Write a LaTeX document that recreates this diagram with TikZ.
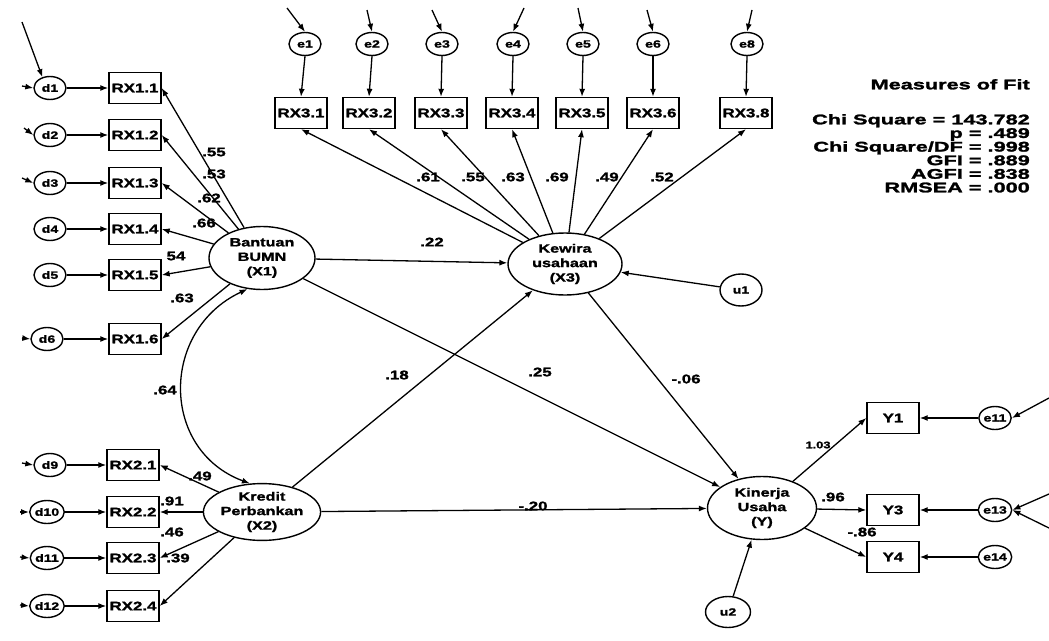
\documentclass[tikz,border=0pt]{standalone}
\usepackage{fontspec}
\usetikzlibrary{shapes.geometric,arrows.meta}
\newfontfamily\lab{Liberation Sans Bold}[FakeStretch=1.35,FakeBold=1.6]
\newfontfamily\meas{Liberation Sans Bold}[FakeStretch=1.55,FakeBold=1.8]
\begin{document}
\begin{tikzpicture}[x=1pt,y=-1pt,
 box/.style={draw, line width=1.4pt, minimum width=52pt, minimum height=31pt, inner sep=1pt, font=\lab\fontsize{12.5}{14}\selectfont},
 err/.style={draw, ellipse, line width=1.4pt, minimum width=32pt, minimum height=23pt, inner sep=0pt, font=\lab\fontsize{10.5}{12}\selectfont},
 lat/.style={draw, ellipse, line width=1.4pt, inner sep=0pt, align=center, font=\lab\fontsize{12}{14.5}\selectfont},
 arr/.style={-{Latex[length=8pt,width=6pt]}, line width=1.3pt},
 coef/.style={font=\lab\fontsize{12.5}{14}\selectfont, inner sep=0pt},
]
\useasboundingbox[fill=white] (0,0) rectangle (1049,640);

% left block X1
\foreach \i/\y in {1/88,2/135,3/183,4/229,5/275,6/339}{
  \node[box] (rx1\i) at (135,\y) {RX1.\i};
}
\node[err] (d1) at (50,88) {d1};
\node[err] (d2) at (50,135) {d2};
\node[err] (d3) at (50,183) {d3};
\node[err] (d4) at (50,229) {d4};
\node[err] (d5) at (50,275) {d5};
\node[err] (d6) at (47,339) {d6};

\node[lat, minimum width=106pt, minimum height=63pt] (x1) at (262,258) {Bantuan\\BUMN\\(X1)};
\node[lat, minimum width=112pt, minimum height=52pt] (x2) at (262,512) {Kredit\\Perbankan\\(X2)};

% left block X2
\foreach \i/\y in {1/465,2/512,3/558,4/606}{
  \node[box] (rx2\i) at (133,\y) {RX2.\i};
}
\node[err] (d9) at (50,465) {d9};
\node[err] (d10) at (47,512) {d10};
\node[err] (d11) at (47,558) {d11};
\node[err] (d12) at (47,606) {d12};

% top block X3
\foreach \n/\x/\lbl in {1/305/e1,2/372/e2,3/442/e3,4/513/e4,5/583/e5,6/653/e6,8/747/e8}{
  \node[err] (e\n) at (\x,44) {\lbl};
}
\foreach \n/\x in {1/301,2/369,3/441,4/512,5/582,6/653,8/746}{
  \node[box] (rx3\n) at (\x,113) {RX3.\n};
}
\node[lat, minimum width=114pt, minimum height=62pt] (x3) at (565,264) {Kewira\\usahaan\\(X3)};
\node[err, minimum width=42pt, minimum height=32pt] (u1) at (741,290) {u1};

% Y block
\node[lat, minimum width=109pt, minimum height=63pt] (y) at (762,508) {Kinerja\\Usaha\\(Y)};
\node[err, minimum width=45pt, minimum height=31pt] (u2) at (728,612) {u2};
\node[box] (y1) at (893,418) {Y1};
\node[box] (y3) at (893,510) {Y3};
\node[box] (y4) at (893,557) {Y4};
\node[err] (e11) at (995,418) {e11};
\node[err] (e13) at (995,510) {e13};
\node[err] (e14) at (995,557) {e14};

% stray incoming arrows
\coordinate (s0) at (22,22);
\coordinate (s1) at (22,86);
\coordinate (s2) at (24,128);
\coordinate (s3) at (22,178);
\coordinate (s6) at (22,338);
\coordinate (s9) at (22,463);
\coordinate (s10) at (20,512);
\coordinate (s11) at (20,557);
\coordinate (s12) at (20,605);
\draw[arr] (s0) -- (d1.125);
\foreach \a/\b in {s1/d1,s2/d2,s3/d3,s6/d6,s9/d9,s10/d10,s11/d11,s12/d12}{
  \draw[arr] (\a) -- (\b.west);
}
\coordinate (t1) at (287,8);
\coordinate (t2) at (367,10);
\coordinate (t3) at (432,10);
\coordinate (t4) at (524,8);
\coordinate (t5) at (578,8);
\coordinate (t6) at (647,10);
\coordinate (t8) at (752,10);
\foreach \n in {1,2,3,4,5,6,8}{
  \draw[arr] (t\n) -- (e\n.north);
  \draw[arr] (e\n.south) -- (rx3\n.north);
  \draw[arr] (x3) -- (rx3\n.south);
}
\coordinate (r11) at (1049,398);
\coordinate (r13a) at (1049,494);
\coordinate (r13b) at (1049,528);
\draw[arr] (r11) -- (e11.east);
\draw[arr] (r13a) -- (e13.east);
\draw[arr] (r13b) -- (e13.east);

% measurement arrows
\foreach \i/\d in {1/d1,2/d2,3/d3,4/d4,5/d5,6/d6}{
  \draw[arr] (\d.east) -- (rx1\i.west);
  \draw[arr] (x1) -- (rx1\i.east);
}
\foreach \i/\d in {1/d9,2/d10,3/d11,4/d12}{
  \draw[arr] (\d.east) -- (rx2\i.west);
  \draw[arr] (x2) -- (rx2\i.east);
}
\foreach \v/\e in {y1/e11,y3/e13,y4/e14}{
  \draw[arr] (\e.west) -- (\v.east);
  \draw[arr] (y) -- (\v.west);
}

% structural
\draw[arr] (x1) -- (x3);
\draw[arr] (x2) -- (x3);
\draw[arr] (x1) -- (y);
\draw[arr] (x3) -- (y);
\draw[arr] (x2) -- (y);
\draw[arr] (u1) -- (x3);
\draw[arr] (u2) -- (y);
\draw[{Latex[length=8pt,width=6pt]}-{Latex[length=8pt,width=6pt]}, line width=1.3pt]
  (x1.245) .. controls (160,330) and (160,450) .. (x2.113);

% coefficients
\node[coef] (c11) at (214,152) {.55};
\node[coef] (c12) at (214,174) {.53};
\node[coef] (c13) at (209,198) {.62};
\node[coef] (c14) at (204,223) {.66};
\node[coef] (c15) at (176,256) {54};
\node[coef] (c16) at (182,298) {.63};
\node[coef] (c21) at (200,476) {.49};
\node[coef] (c22) at (172,501) {.91};
\node[coef] (c23) at (172,532) {.46};
\node[coef] (c24) at (178,558) {.39};
\node[coef] (c31) at (428,177) {.61};
\node[coef] (c32) at (473,177) {.55};
\node[coef] (c33) at (513,177) {.63};
\node[coef] (c34) at (557,177) {.69};
\node[coef] (c35) at (607,177) {.49};
\node[coef] (c36) at (662,177) {.52};
\node[coef] (k64) at (165,390) {.64};
\node[coef] (k22) at (432,242) {.22};
\node[coef] (k18) at (397,375) {.18};
\node[coef] (k25) at (540,372) {.25};
\node[coef] (k06) at (686,379) {-.06};
\node[coef] (k20) at (533,506) {-.20};
\node[coef, font=\lab\fontsize{9.5}{11}\selectfont] (ky1) at (818,445) {1.03};
\node[coef] (ky3) at (833,497) {.96};
\node[coef] (ky4) at (862,532) {-.86};

% measures of fit
\node[anchor=north east, inner sep=0pt, align=right, font=\meas\fontsize{14}{14}\selectfont] (mf) at (1030,79) {Measures of Fit};
\node[anchor=north east, inner sep=0pt, align=right, font=\meas\fontsize{14}{13.6}\selectfont] (mv) at (1030,114)
 {Chi Square = 143.782\\ p = .489\\ Chi Square/DF = .998\\ GFI = .889\\ AGFI = .838\\ RMSEA = .000};
\end{tikzpicture}
\end{document}
